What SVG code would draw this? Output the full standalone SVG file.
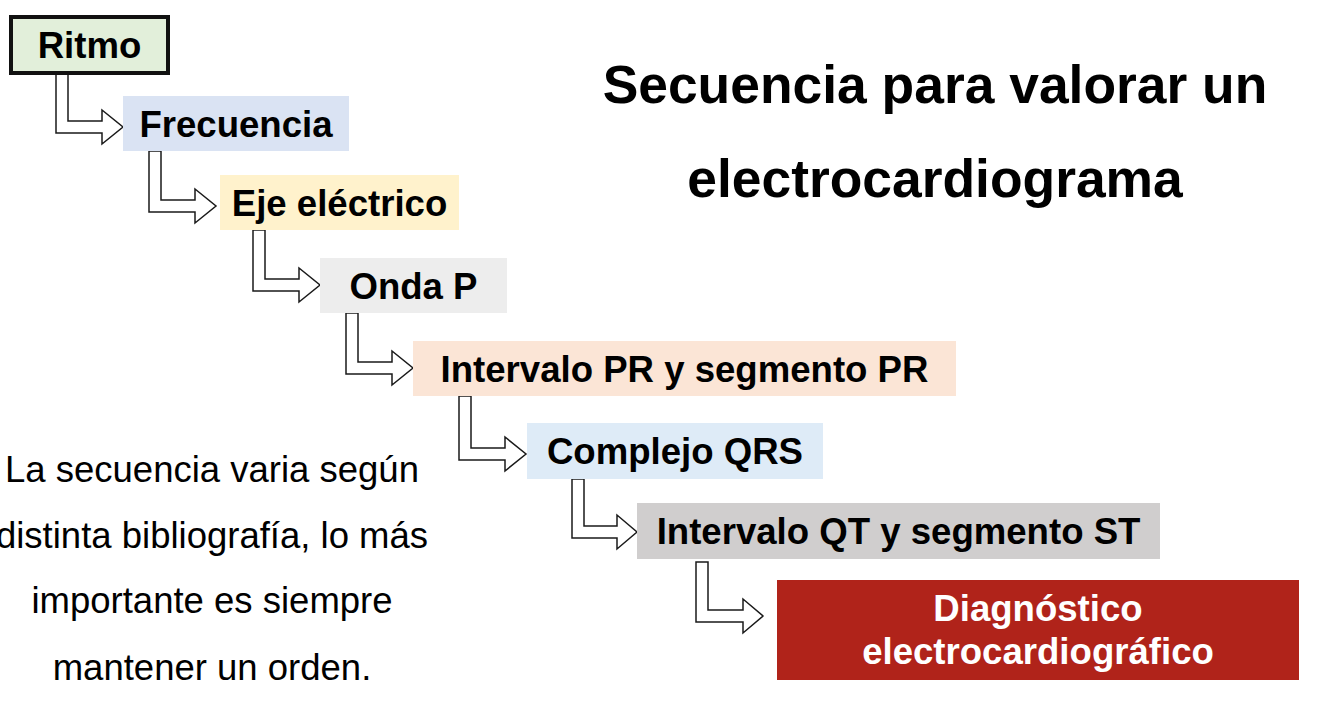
<svg xmlns="http://www.w3.org/2000/svg" width="1334" height="719" viewBox="0 0 1334 719">
<style>
.lbl{font-family:"Liberation Sans",Arial,sans-serif;font-weight:bold;font-size:36.6px;fill:#000;text-anchor:middle}
.wl{fill:#fff}
.ttl{font-family:"Liberation Sans",Arial,sans-serif;font-weight:bold;font-size:53.4px;fill:#000;text-anchor:middle}
.note{font-family:"Liberation Sans",Arial,sans-serif;font-size:36.5px;fill:#000;text-anchor:middle}
.arr{fill:#fff;stroke:#1a1a1a;stroke-width:1.5;stroke-linejoin:miter}
</style>
<rect width="1334" height="719" fill="#fff"/>
<g id="connectors">
<polygon class="arr" points="56,74 68,74 68,121 102,121 102,110 123,127 102,144 102,133 56,133"/>
<polygon class="arr" points="149,151 161,151 161,200 195,200 195,189 216,206 195,223 195,212 149,212"/>
<polygon class="arr" points="253,230 265,230 265,279 299,279 299,268 320,285 299,302 299,291 253,291"/>
<polygon class="arr" points="346,313 358,313 358,362 392,362 392,351 413,368 392,385 392,374 346,374"/>
<polygon class="arr" points="459,396 471,396 471,448 505,448 505,437 526,454 505,471 505,460 459,460"/>
<polygon class="arr" points="572,479 584,479 584,526 617,526 617,515 637,532 617,549 617,538 572,538"/>
<polygon class="arr" points="696,562 708,562 708,610 743,610 743,599 763,616 743,633 743,622 696,622"/>
</g>
<g id="ritmo">
<rect x="11" y="17" width="157" height="56" fill="#e2efda" stroke="#111" stroke-width="4"/>
<text class="lbl" x="89.5" y="58">Ritmo</text>
</g>
<g id="frecuencia">
<rect x="123" y="96" width="226" height="55" fill="#dae3f3"/>
<text class="lbl" x="236" y="137">Frecuencia</text>
</g>
<g id="eje">
<rect x="220" y="175" width="239" height="55" fill="#fff2cc"/>
<text class="lbl" x="339.5" y="216">Eje eléctrico</text>
</g>
<g id="ondap">
<rect x="320" y="258" width="187" height="55" fill="#ededed"/>
<text class="lbl" x="413.5" y="299">Onda P</text>
</g>
<g id="pr">
<rect x="413" y="341" width="543" height="55" fill="#fbe5d6"/>
<text class="lbl" x="684.5" y="382">Intervalo PR y segmento PR</text>
</g>
<g id="qrs">
<rect x="527" y="423" width="296" height="56" fill="#deebf7"/>
<text class="lbl" x="675" y="464">Complejo QRS</text>
</g>
<g id="qt">
<rect x="637" y="503" width="523" height="56" fill="#d0cece"/>
<text class="lbl" x="898.5" y="544">Intervalo QT y segmento ST</text>
</g>
<g id="diagnostico">
<rect x="777" y="580" width="522" height="100" fill="#b0231a"/>
<text class="lbl wl" x="1038" y="621">Diagnóstico</text>
<text class="lbl wl" x="1038" y="664">electrocardiográfico</text>
</g>
<g id="title">
<text class="ttl" x="935" y="103">Secuencia para valorar un</text>
<text class="ttl" x="935" y="197">electrocardiograma</text>
</g>
<g id="note">
<text class="note" x="212" y="482">La secuencia varia según</text>
<text class="note" x="212" y="548">distinta bibliografía, lo más</text>
<text class="note" x="212" y="613">importante es siempre</text>
<text class="note" x="212" y="680">mantener un orden.</text>
</g>
</svg>
